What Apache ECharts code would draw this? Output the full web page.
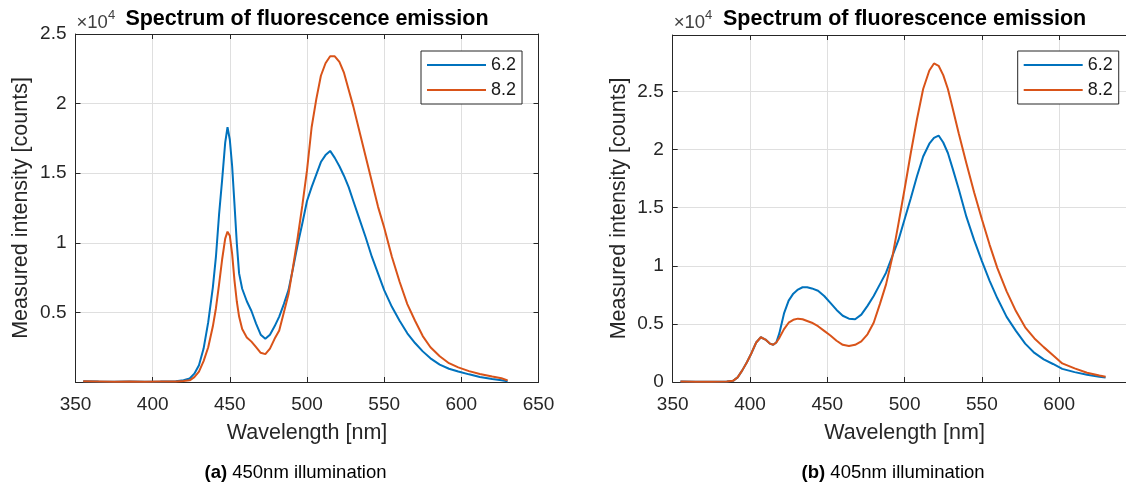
<!DOCTYPE html>
<html>
<head>
<meta charset="utf-8">
<script src="https://cdn.jsdelivr.net/npm/echarts@6/dist/echarts.min.js"></script>
<style>
html,body{margin:0;padding:0;background:#fff;overflow:hidden;width:1126px;height:486px;}
#c{width:1140px;height:486px;}
</style>
</head>
<body>
<div id="c"></div>
<script>
// ---- data (intensity in units of 10^4 counts) ----
const seriesNames = ['6.2', '8.2'];

// (a) 450nm illumination
const wlA = [355,365,375,385,395,405,415,420,424,427,430,433,436,439,441,443,445,447,448.5,450,451.5,453,454.5,456,458,461,464,467,470,473,476,479,482,485,488,491,494,497,500,503,506,509,512,515,518,521,524,527,530,534,538,542,546,550,555,560,565,570,575,580,586,592,598,605,612,620,626,630];
const blueA = [0.005,0.003,0.002,0.003,0.002,0.003,0.006,0.012,0.025,0.06,0.12,0.24,0.43,0.68,0.90,1.20,1.45,1.72,1.83,1.74,1.55,1.28,1.00,0.78,0.67,0.58,0.51,0.42,0.34,0.31,0.34,0.40,0.47,0.56,0.66,0.82,0.99,1.14,1.30,1.40,1.49,1.58,1.63,1.66,1.61,1.55,1.48,1.40,1.30,1.17,1.04,0.90,0.78,0.66,0.54,0.44,0.35,0.28,0.22,0.17,0.125,0.095,0.075,0.055,0.036,0.022,0.012,0.005];
const orangeA = [0.005,0.004,0.002,0.003,0.002,0.003,0.004,0.007,0.012,0.035,0.075,0.15,0.25,0.40,0.53,0.70,0.88,1.03,1.08,1.05,0.92,0.73,0.58,0.47,0.38,0.32,0.29,0.25,0.21,0.20,0.24,0.31,0.37,0.50,0.63,0.83,1.04,1.27,1.52,1.83,2.03,2.20,2.29,2.34,2.34,2.30,2.22,2.10,1.98,1.80,1.62,1.44,1.26,1.11,0.90,0.72,0.56,0.44,0.33,0.25,0.185,0.135,0.105,0.078,0.058,0.040,0.027,0.012];

// (b) 405nm illumination
const wlB = [355,365,375,385,389,392,395,398,401,404,407,410,413,415,417,419,422,425,428,431,434,437,440,444,448,452,456,460,464,468,472,476,480,484,488,492,496,500,504,508,512,516,519,522,525,528,531,535,540,545,550,555,560,566,572,578,584,590,596,602,610,618,626,630];
const blueB = [0.005,0.003,0.003,0.004,0.01,0.04,0.10,0.17,0.25,0.34,0.385,0.365,0.33,0.32,0.34,0.42,0.59,0.70,0.76,0.795,0.815,0.815,0.805,0.785,0.74,0.68,0.62,0.57,0.545,0.54,0.58,0.655,0.74,0.84,0.94,1.08,1.22,1.40,1.58,1.77,1.94,2.05,2.10,2.12,2.06,1.97,1.84,1.66,1.42,1.22,1.04,0.87,0.72,0.56,0.44,0.33,0.25,0.195,0.155,0.113,0.085,0.063,0.045,0.038];
const orangeB = [0.005,0.003,0.003,0.004,0.01,0.04,0.10,0.17,0.25,0.34,0.385,0.365,0.33,0.32,0.34,0.38,0.455,0.51,0.535,0.545,0.54,0.525,0.51,0.48,0.44,0.40,0.355,0.32,0.31,0.32,0.35,0.41,0.51,0.67,0.84,1.07,1.36,1.66,1.97,2.26,2.52,2.68,2.74,2.72,2.64,2.52,2.36,2.14,1.88,1.63,1.40,1.18,0.98,0.78,0.61,0.47,0.375,0.30,0.23,0.16,0.117,0.08,0.056,0.045];

// axis ranges / labels
const xRange = [350, 650];
const yRangeA = [0, 2.5];
const yRangeB = [0, 2.985];
const tickStep = 50, yStep = 0.5;
const titleText = 'Spectrum of fluorescence emission';
const xName = 'Wavelength [nm]';
const yName = 'Measured intensity [counts]';
const captions = [['(a)', ' 450nm illumination'], ['(b)', ' 405nm illumination']];

// ---- chart ----
const FONT = '"Liberation Sans", Arial, Helvetica, sans-serif';
const AX = '#262626';
const GRIDC = '#dfdfdf';
const COLORS = ['#0072BD', '#D95319'];
const grids = [
  {left: 75.5, top: 34, width: 463, height: 348},
  {left: 672.7, top: 35, width: 463.8, height: 347}
];

function pairs(w, v) { return w.map((x, i) => [x, v[i]]); }

function xAx(g, pos, showMax) {
  const bottom = pos === 'bottom';
  return {
    type: 'value', gridIndex: g, position: pos, min: xRange[0], max: xRange[1], interval: tickStep,
    axisLine: {show: true, onZero: false, lineStyle: {color: AX, width: 1}},
    axisTick: {show: true, inside: true, length: 5, lineStyle: {color: AX}},
    axisLabel: {show: bottom, color: AX, fontSize: 19, fontFamily: FONT, margin: 13, showMaxLabel: showMax, showMinLabel: true},
    splitLine: {show: bottom, lineStyle: {color: GRIDC, width: 1}},
    name: bottom ? xName : '', nameLocation: 'middle', nameGap: 40,
    nameTextStyle: {color: AX, fontSize: 21.5, fontFamily: FONT}
  };
}
function yAx(g, pos, range, hideZero, showMax) {
  const left = pos === 'left';
  return {
    type: 'value', gridIndex: g, position: pos, min: range[0], max: range[1], interval: yStep,
    axisLine: {show: true, onZero: false, lineStyle: {color: AX, width: 1}},
    axisTick: {show: true, inside: true, length: 5, lineStyle: {color: AX}},
    axisLabel: {show: left, color: AX, fontSize: 19, fontFamily: FONT, margin: 9, showMaxLabel: showMax, showMinLabel: true,
      formatter: v => (hideZero && v === 0) ? '' : String(+v.toFixed(2))},
    splitLine: {show: left, lineStyle: {color: GRIDC, width: 1}},
    name: left ? yName : '', nameLocation: 'middle', nameGap: 43,
    nameTextStyle: {color: AX, fontSize: 21.5, fontFamily: FONT}
  };
}

const xAxes = [xAx(0, 'bottom', true), xAx(0, 'top', true), xAx(1, 'bottom', false), xAx(1, 'top', false)];
const yAxes = [yAx(0, 'left', yRangeA, true, true), yAx(0, 'right', yRangeA, true, true), yAx(1, 'left', yRangeB, false, false), yAx(1, 'right', yRangeB, false, false)];

function line(name, data, xi, yi, color) {
  return {type: 'line', name: name, xAxisIndex: xi, yAxisIndex: yi, data: data, showSymbol: false, symbol: 'none',
    smooth: false, lineStyle: {color: color, width: 2}, itemStyle: {color: color}, animation: false, z: 2};
}
const series = [
  line(seriesNames[0], pairs(wlA, blueA), 0, 0, COLORS[0]),
  line(seriesNames[1], pairs(wlA, orangeA), 0, 0, COLORS[1]),
  line(seriesNames[0], pairs(wlB, blueB), 2, 2, COLORS[0]),
  line(seriesNames[1], pairs(wlB, orangeB), 2, 2, COLORS[1])
];

function legend(left) {
  return {
    orient: 'vertical', left: left, top: 51, data: seriesNames, icon: 'rect', itemWidth: 59, itemHeight: 2, itemGap: 7,
    padding: [5, 6, 5, 6], borderColor: AX, borderWidth: 1, backgroundColor: '#fff', selectedMode: false,
    textStyle: {color: '#1a1a1a', fontSize: 18, fontFamily: FONT, lineHeight: 18}
  };
}

function txt(x, y, text, size, weight, color, align) {
  return {type: 'text', x: x, y: y, silent: true, z: 10,
    style: {text: text, fontSize: size, fontWeight: weight, fontFamily: FONT, fill: color,
      textAlign: align, align: align, textVerticalAlign: 'middle', verticalAlign: 'middle'}};
}
function caption(cx, cy, parts) {
  return {type: 'text', x: cx, y: cy, silent: true, z: 10,
    style: {text: '{b|' + parts[0] + '}' + parts[1], fontSize: 18.5, fontFamily: FONT, fill: '#000',
      textAlign: 'center', align: 'center', textVerticalAlign: 'middle', verticalAlign: 'middle',
      rich: {b: {fontWeight: 'bold', fontSize: 18.5, fontFamily: FONT, fill: '#000', color: '#000'}}}};
}

const graphics = [];
grids.forEach((g, i) => {
  const cx = g.left + g.width / 2;
  graphics.push(txt(cx, 19.5, titleText, 21.5, 'bold', '#000', 'center'));
  graphics.push(txt(g.left + 1, 22.5, '\u00d710', 18.5, 'normal', '#404040', 'left'));
  graphics.push(txt(g.left + 1 + 31.4, 15, '4', 13, 'normal', '#404040', 'left'));
  graphics.push(caption(cx - 11.5, 473, captions[i]));
});

const chart = echarts.init(document.getElementById('c'), null, {renderer: 'canvas'});
chart.setOption({
  animation: false,
  backgroundColor: '#fff',
  grid: grids.map(g => Object.assign({containLabel: false, show: false}, g)),
  xAxis: xAxes,
  yAxis: yAxes,
  legend: [legend(421), legend(1017.7)],
  series: series,
  graphic: graphics
});
</script>
</body>
</html>
